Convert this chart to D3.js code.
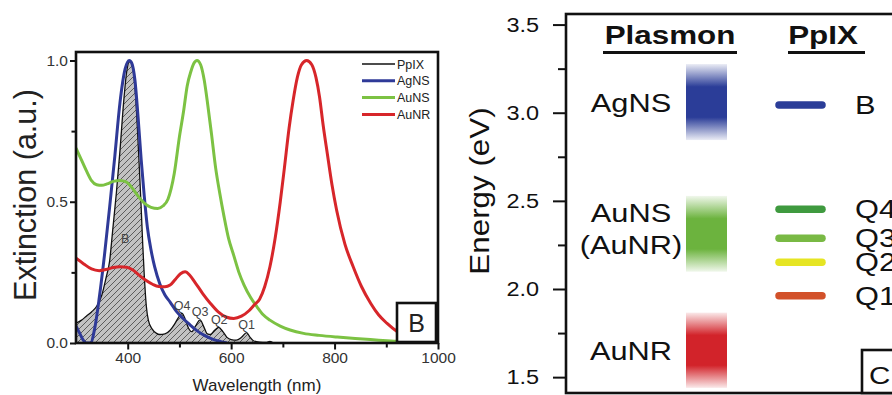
<!DOCTYPE html>
<html>
<head>
<meta charset="utf-8">
<script src="https://cdn.jsdelivr.net/npm/d3@7/dist/d3.min.js"></script>
<style>
  body { margin: 0; background: #fff; }
  svg { font-family: "Liberation Sans", Arial, Helvetica, sans-serif; }
</style>
</head>
<body>
<svg id="chart" width="892" height="395"></svg>
<script>
// ---- panel B : extinction spectra, [wavelength nm, extinction]
const ppix = [
  [300,0.07],[310,0.08],[320,0.095],[330,0.11],[340,0.13],[350,0.17],[358,0.23],[365,0.29],
  [371,0.40],[378,0.53],[385,0.68],[392,0.85],[398,0.96],[404,1.0],[410,0.97],[415,0.88],
  [419,0.75],[423,0.60],[426,0.48],[429,0.35],[432,0.24],[436,0.13],[440,0.08],[447,0.05],
  [455,0.035],[462,0.03],[472,0.032],[482,0.045],[490,0.065],[498,0.09],[505,0.105],[511,0.085],
  [517,0.055],[524,0.04],[531,0.06],[540,0.082],[547,0.058],[554,0.032],[560,0.03],[568,0.045],
  [576,0.055],[584,0.04],[592,0.02],[600,0.012],[610,0.01],[620,0.02],[630,0.037],[636,0.022],
  [643,0.008],[655,0.003],[668,0.002],[675,0.006],[682,0.0]
];
const agns = [
  [300,0.06],[307,0.035],[314,0.01],[320,0.0],[328,0.0],[336,0.05],[345,0.16],[355,0.31],
  [365,0.48],[375,0.66],[385,0.85],[395,0.97],[403,1.0],[408,0.99],[414,0.93],[420,0.80],
  [426,0.65],[432,0.52],[438,0.41],[445,0.33],[452,0.27],[462,0.21],[472,0.17],[482,0.145],
  [495,0.11],[508,0.085],[520,0.065],[535,0.042],[550,0.025],[565,0.013],[580,0.005],[592,0.0]
];
const auns = [
  [300,0.69],[310,0.65],[320,0.61],[330,0.575],[340,0.56],[350,0.558],[360,0.563],[372,0.572],
  [385,0.575],[397,0.57],[408,0.55],[420,0.52],[432,0.495],[445,0.48],[458,0.476],[468,0.485],
  [478,0.51],[490,0.60],[500,0.73],[508,0.82],[515,0.91],[522,0.96],[528,0.99],[534,1.0],
  [541,0.985],[548,0.93],[555,0.84],[562,0.74],[570,0.62],[578,0.53],[586,0.45],[595,0.37],
  [605,0.31],[615,0.25],[625,0.205],[638,0.16],[650,0.128],[662,0.10],[675,0.081],[695,0.06],
  [714,0.046],[740,0.034],[770,0.027],[805,0.021],[840,0.016],[880,0.011],[920,0.006],[1000,0.003]
];
const aunr = [
  [300,0.30],[315,0.28],[330,0.262],[345,0.256],[358,0.26],[372,0.267],[385,0.27],[398,0.268],
  [410,0.258],[422,0.24],[435,0.222],[448,0.208],[460,0.20],[472,0.199],[482,0.205],[492,0.225],
  [502,0.245],[511,0.252],[520,0.24],[530,0.215],[545,0.175],[560,0.14],[575,0.11],[590,0.092],
  [605,0.087],[620,0.095],[635,0.115],[645,0.135],[655,0.155],[665,0.20],[675,0.27],[685,0.37],
  [695,0.50],[703,0.62],[712,0.76],[720,0.86],[728,0.94],[736,0.985],[746,1.0],[756,0.985],
  [764,0.94],[771,0.87],[778,0.77],[786,0.67],[795,0.56],[804,0.47],[820,0.35],[836,0.27],
  [852,0.20],[870,0.14],[885,0.10],[901,0.07],[920,0.042],[940,0.025],[960,0.015],[1000,0.005]
];
const seriesNames = ["PpIX", "AgNS", "AuNS", "AuNR"];
const peakNames = ["B", "Q4", "Q3", "Q2", "Q1"];
const peakWavelengths = [395, 505, 540, 577, 630];
const peakValues = [0.37, 0.105, 0.082, 0.055, 0.037];
const xMajorTicks = [400, 600, 800, 1000];
const xMinorTicks = [500, 700, 900];
const yMajorTicks = [0, 0.5, 1.0];
const yMinorTicks = [0.25, 0.75];

// ---- panel C : energy diagram (eV)
const plasmonLabels = [["AgNS"], ["AuNS", "(AuNR)"], ["AuNR"]];
const plasmonRanges = [[2.845, 3.276], [2.098, 2.528], [1.439, 1.866]];
const ppixBands = ["B", "Q4", "Q3", "Q2", "Q1"];
const ppixEnergies = [3.044, 2.452, 2.288, 2.152, 1.962];
const eMajorTicks = [1.5, 2.0, 2.5, 3.0, 3.5];
const eMinorTicks = [1.75, 2.25, 2.75, 3.25];

// colours
const seriesColor = { PpIX: "#111", AgNS: "#2f3a98", AuNS: "#7cc243", AuNR: "#d7262a" };
const plasmonColor = ["#2b3d98", "#6cb33e", "#d2232a"];
const bandColor = { B: "#2b3d98", Q4: "#3f9a3f", Q3: "#79b944", Q2: "#e6e523", Q1: "#d2512a" };

const svg = d3.select("#chart");
const defs = svg.append("defs");

// hatch for the PpIX area
const hatch = defs.append("pattern")
  .attr("id", "hatch").attr("patternUnits", "userSpaceOnUse")
  .attr("width", 6).attr("height", 6);
hatch.append("rect").attr("width", 6).attr("height", 6).attr("fill", "#c2c2c2");
hatch.append("path")
  .attr("d", "M-1,1 l2,-2 M0,6 l6,-6 M5,7 l2,-2")
  .attr("stroke", "#3a3a3a").attr("stroke-width", 0.75);

//=========== PANEL B
const pB = { left: 76, right: 438, top: 52, bottom: 343 };
const x = d3.scaleLinear().domain([300, 1000]).range([pB.left, pB.right]);
const y = d3.scaleLinear().domain([0, 1.03]).range([pB.bottom, pB.top]);

defs.append("clipPath").attr("id", "clipB")
  .append("rect").attr("x", pB.left).attr("y", pB.top)
  .attr("width", pB.right - pB.left).attr("height", pB.bottom - pB.top);

const gB = svg.append("g");
const plot = gB.append("g").attr("clip-path", "url(#clipB)");

const area = d3.area().x(d => x(d[0])).y0(y(0)).y1(d => y(d[1])).curve(d3.curveMonotoneX);
const line = d3.line().x(d => x(d[0])).y(d => y(d[1])).curve(d3.curveMonotoneX);

plot.append("path").datum(ppix).attr("d", area).attr("fill", "url(#hatch)");
plot.append("path").datum(ppix).attr("d", line)
  .attr("fill", "none").attr("stroke", seriesColor.PpIX).attr("stroke-width", 1.3);

[agns, auns, aunr].forEach((data, i) => {
  plot.append("path").datum(data).attr("d", line)
    .attr("fill", "none").attr("stroke", seriesColor[seriesNames[i + 1]])
    .attr("stroke-width", 3).attr("stroke-linejoin", "round");
});

// peak labels (B, Q4..Q1)
peakNames.forEach((name, i) => {
  gB.append("text")
    .attr("x", x(peakWavelengths[i]))
    .attr("y", y(peakValues[i]) + (i === 0 ? 4.5 : -3.5))
    .attr("text-anchor", "middle")
    .attr("font-size", 12.5).attr("fill", "#444")
    .text(name);
});

// axes
const xAxisG = gB.append("g").attr("transform", `translate(0,${pB.bottom})`);
xAxisG.call(d3.axisBottom(x).tickValues(xMajorTicks).tickSize(6.5).tickPadding(2.5).tickFormat(d3.format("d")));
xAxisG.append("g").call(d3.axisBottom(x).tickValues(xMinorTicks).tickSize(4.5).tickFormat(""));
const yAxisG = gB.append("g").attr("transform", `translate(${pB.left},0)`);
yAxisG.call(d3.axisLeft(y).tickValues(yMajorTicks).tickSize(6).tickPadding(2).tickFormat(d3.format(".1f")));
yAxisG.append("g").call(d3.axisLeft(y).tickValues(yMinorTicks).tickSize(4.5).tickFormat(""));
gB.selectAll(".domain").remove();
gB.selectAll(".tick line").attr("stroke", "#111").attr("stroke-width", 2);
gB.selectAll(".tick text").attr("font-size", 15.5).attr("fill", "#333")
  .attr("font-family", "'Liberation Sans', Arial, sans-serif");

gB.append("rect")
  .attr("x", pB.left).attr("y", pB.top)
  .attr("width", pB.right - pB.left).attr("height", pB.bottom - pB.top)
  .attr("fill", "none").attr("stroke", "#111").attr("stroke-width", 2.6);

// legend
seriesNames.forEach((name, i) => {
  const ly = 64 + i * 16.8;
  gB.append("line").attr("x1", 362).attr("x2", 395).attr("y1", ly).attr("y2", ly)
    .attr("stroke", seriesColor[name]).attr("stroke-width", i === 0 ? 1.3 : 3);
  gB.append("text").attr("x", 397).attr("y", ly + 4.5)
    .attr("font-size", 12.5).attr("fill", "#222").text(name);
});

// panel letter
gB.append("rect").attr("x", 397).attr("y", 303).attr("width", 39).attr("height", 39)
  .attr("fill", "#fff").attr("stroke", "#111").attr("stroke-width", 2.6);
gB.append("text").attr("x", 416.5).attr("y", 331.5).attr("text-anchor", "middle")
  .attr("font-size", 25).attr("fill", "#222").text("B");

gB.append("text").attr("x", 257).attr("y", 391).attr("text-anchor", "middle")
  .attr("font-size", 17).attr("fill", "#222").text("Wavelength (nm)");
gB.append("text").attr("transform", "translate(36,195) rotate(-90)")
  .attr("text-anchor", "middle").attr("font-size", 30.5).attr("fill", "#222")
  .text("Extinction (a.u.)");

//=========== PANEL C
const pC = { left: 566, right: 960, top: 14, bottom: 393 };
const e = d3.scaleLinear().domain([1.41, 3.56]).range([pC.bottom, pC.top]);
const gC = svg.append("g");
const sx = 1.23; // the original lettering is wider than Arial

function stretched(g, px, py, txt, size, opts = {}) {
  return g.append("text")
    .attr("transform", `translate(${px},${py}) scale(${sx},1)`)
    .attr("text-anchor", opts.anchor || "start")
    .attr("font-size", size)
    .attr("font-weight", opts.weight || "normal")
    .attr("fill", "#111")
    .text(txt);
}

// plasmon bands with faded ends
plasmonRanges.forEach((r, i) => {
  const gid = "grad" + i;
  const grad = defs.append("linearGradient").attr("id", gid)
    .attr("x1", 0).attr("x2", 0).attr("y1", 0).attr("y2", 1);
  [[0, 0.1], [0.3, 1], [0.7, 1], [1, 0.1]].forEach(s => {
    grad.append("stop").attr("offset", s[0]).attr("stop-color", plasmonColor[i]).attr("stop-opacity", s[1]);
  });
  gC.append("rect").attr("x", 686).attr("width", 41)
    .attr("y", e(r[1])).attr("height", e(r[0]) - e(r[1]))
    .attr("fill", `url(#${gid})`);
  const lines = plasmonLabels[i];
  const mid = e((r[0] + r[1]) / 2) + (lines.length > 1 ? -5 : 1);
  lines.forEach((t, k) => {
    const cy = mid + (k - (lines.length - 1) / 2) * 32.5;
    stretched(gC, 631, cy + 9, t, 25, { anchor: "middle" });
  });
});

// PpIX transitions
ppixBands.forEach((b, i) => {
  gC.append("line").attr("x1", 779).attr("x2", 822)
    .attr("y1", e(ppixEnergies[i])).attr("y2", e(ppixEnergies[i]))
    .attr("stroke", bandColor[b]).attr("stroke-width", 7.5).attr("stroke-linecap", "round");
  stretched(gC, 855, e(ppixEnergies[i]) + 9, b, 25);
});

// headings
stretched(gC, 670, 43.5, "Plasmon", 25.5, { anchor: "middle", weight: "bold" });
stretched(gC, 823, 43.5, "PpIX", 25.5, { anchor: "middle", weight: "bold" });
gC.append("line").attr("x1", 603).attr("x2", 737).attr("y1", 52.5).attr("y2", 52.5)
  .attr("stroke", "#111").attr("stroke-width", 3);
gC.append("line").attr("x1", 788).attr("x2", 865).attr("y1", 52.5).attr("y2", 52.5)
  .attr("stroke", "#111").attr("stroke-width", 3);

// axis
const eAxisG = gC.append("g").attr("transform", `translate(${pC.left},0)`);
eAxisG.call(d3.axisLeft(e).tickValues(eMajorTicks).tickSize(13).tickPadding(11).tickFormat(d3.format(".1f")));
eAxisG.append("g").call(d3.axisLeft(e).tickValues(eMinorTicks).tickSize(8).tickFormat(""));
gC.selectAll(".domain").remove();
gC.selectAll(".tick line").attr("stroke", "#111").attr("stroke-width", 2);
gC.selectAll(".tick text").attr("font-size", 21).attr("fill", "#111")
  .attr("font-family", "'Liberation Sans', Arial, sans-serif")
  .attr("transform", "scale(1.12,1)");

gC.append("rect")
  .attr("x", pC.left).attr("y", pC.top)
  .attr("width", pC.right - pC.left).attr("height", pC.bottom - pC.top)
  .attr("fill", "none").attr("stroke", "#111").attr("stroke-width", 2.6);

// panel letter
gC.append("rect").attr("x", 862).attr("y", 350).attr("width", 60).attr("height", 43)
  .attr("fill", "#fff").attr("stroke", "#111").attr("stroke-width", 2.6);
stretched(gC, 869, 384, "C", 24);

gC.append("text").attr("transform", `translate(489,191) rotate(-90) scale(1.12,1)`)
  .attr("text-anchor", "middle").attr("font-size", 28).attr("fill", "#111")
  .text("Energy (eV)");
</script>
</body>
</html>
